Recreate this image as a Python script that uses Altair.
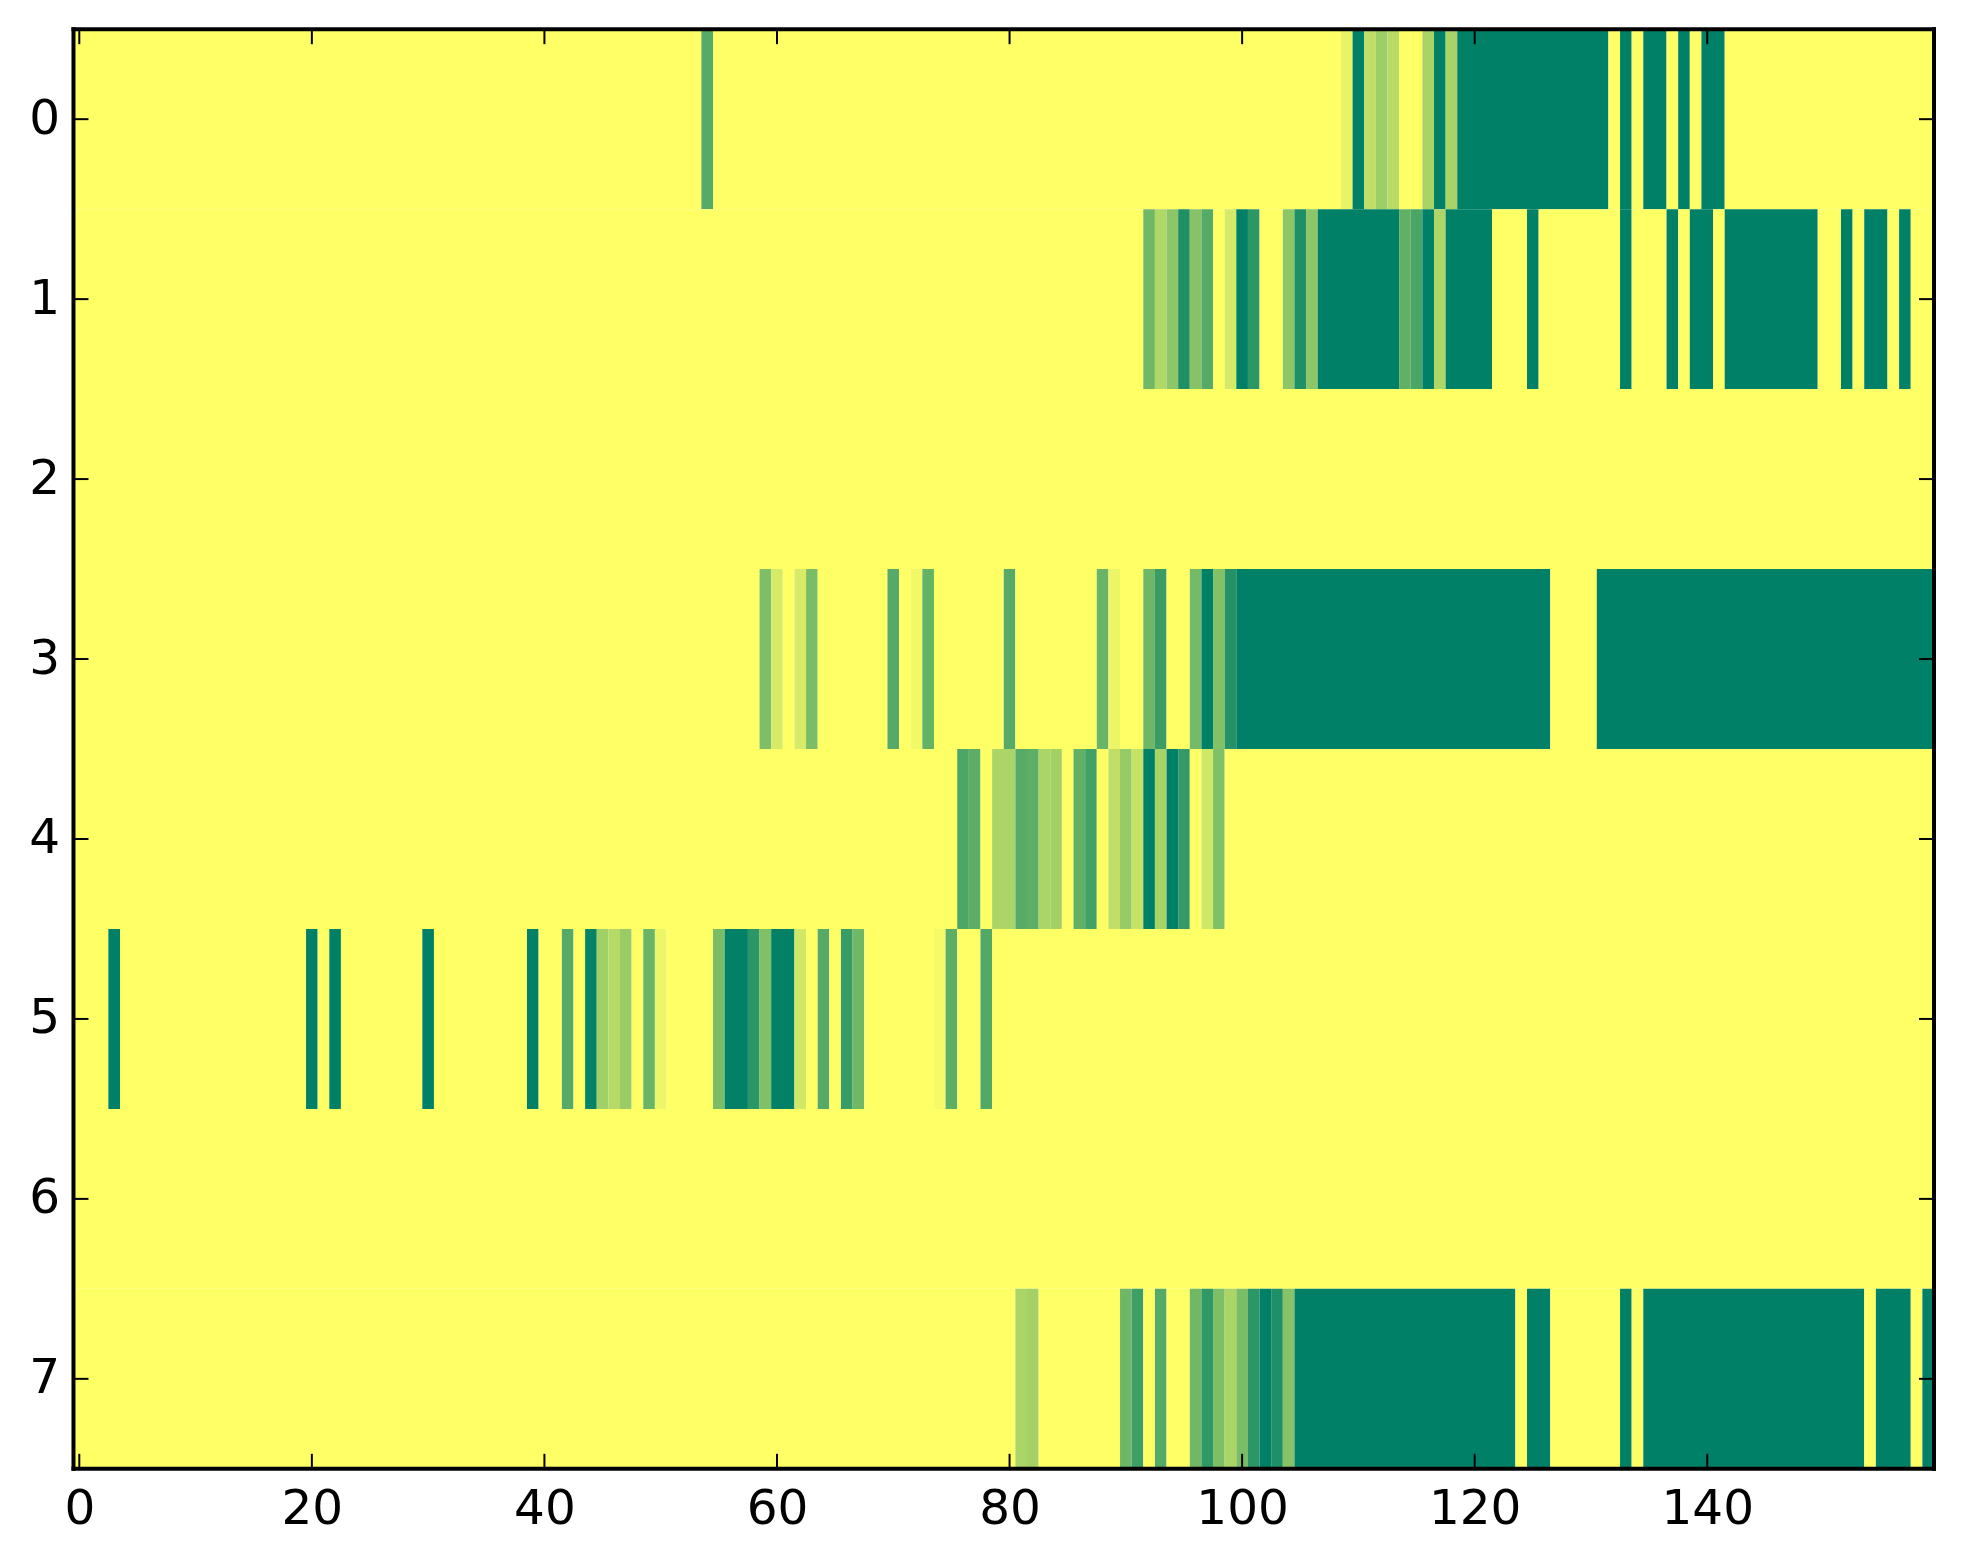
import altair as alt
import pandas as pd

row_0 = [0]*54 + [.67] + [0]*54 + [.09,1,.25,.38,.28,0,0,.34,1,.34] + [1]*13 + [0,1,0,1,1,0,1,0,1,1] + [0]*18
row_1 = ([0]*92 + [.56,.31,.45,.88,.47,.67,0,.165,1,.83,0,0,.45,.88,.45] + [1]*7 + [.62,.71,1,.32] + [1]*4
         + [0]*3 + [1] + [0]*7 + [1] + [0]*3 + [1,0,1,1,0] + [1]*8 + [0,0,1,0,1,1,0,1,0,0])
row_2 = [0]*160
row_3 = ([0]*59 + [.51,.165,0,.155,.52] + [0]*6 + [.67,0,.05,.61] + [0]*6 + [.66] + [0]*7
         + [.59,.08,0,0,.57,.77,0,0,.54,1,.49,.86] + [1]*27 + [0]*4 + [1]*29)
row_4 = ([0]*76 + [.70,.64,0,.33,.33,.66,.63,.33,.36,0,.62,.74,0,.25,.41,.22,1,.34,1,.80,0,.18,.5] + [0]*61)
row_5 = ([0]*3 + [1] + [0]*16 + [1,0,1] + [0]*7 + [1] + [0]*8 + [1,0,0,.67,0,.98,.37,.29,.40,0,.59,.07] + [0]*4
         + [.52,.99,.99,.83,.50,.99,.99,.18,0,.67,0,.78,.56] + [0]*6 + [.04,.63,0,0,.68] + [0]*81)
row_6 = [0]*160
row_7 = ([0]*81 + [.33,.36] + [0]*7 + [.57,.76,0,.67,0,0,.56,.81,.51,.33,.52,.83,1,.88,.47] + [1]*19
         + [0,1,1] + [0]*6 + [1,0] + [1]*19 + [0,1,1,1,0,1])
rows = [row_0, row_1, row_2, row_3, row_4, row_5, row_6, row_7]
for r in rows:
    assert len(r) == 160, len(r)

x_ticks = [0, 20, 40, 60, 80, 100, 120, 140]
y_ticks = [0, 1, 2, 3, 4, 5, 6, 7]

# merge equal neighbours into one rectangle, so that no seams show
cells = []
for ri, r in enumerate(rows):
    start = 0
    for i in range(1, 161):
        if i == 160 or r[i] != r[start]:
            cells.append({"x0": start - .5, "x1": i - .5, "y0": ri - .5, "y1": ri + .5, "v": r[start]})
            start = i
cells = pd.DataFrame(cells)

W, H = 1861, 1440
TICK = 15
x_scale = alt.Scale(domain=[-.5, 159.5], nice=False, zero=False)
y_scale = alt.Scale(domain=[7.5, -.5], nice=False, zero=False)
FONT = "DejaVu Sans"
FS = 48.5

x_axis = alt.Axis(values=x_ticks, format="d", domain=False, ticks=False, grid=False, title=None,
                  labelFont=FONT, labelFontSize=FS, labelColor="#000", labelPadding=17,
                  labelOverlap=False, labelFlush=False)
y_axis = alt.Axis(values=y_ticks, format="d", domain=False, ticks=False, grid=False, title=None,
                  labelFont=FONT, labelFontSize=FS, labelColor="#000", labelPadding=14, labelOffset=-1,
                  labelOverlap=False, labelFlush=False)

heat = alt.Chart(cells).mark_rect(strokeWidth=0).encode(
    x=alt.X("x0:Q", scale=x_scale, axis=x_axis),
    x2="x1:Q",
    y=alt.Y("y0:Q", scale=y_scale, axis=y_axis),
    y2="y1:Q",
    color=alt.Color("v:Q", legend=None,
                    scale=alt.Scale(domain=[0, 1], range=["#ffff66", "#008066"], interpolate="rgb")),
)

xt = pd.DataFrame({"x": x_ticks})
yt = pd.DataFrame({"y": y_ticks})
X = alt.X("x:Q", scale=x_scale, axis=x_axis)
Y = alt.Y("y:Q", scale=y_scale, axis=y_axis)
tick = dict(color="#000", strokeWidth=2)
ticks = [
    alt.Chart(xt).mark_rule(**tick).encode(x=X, y=alt.value(0), y2=alt.value(TICK)),
    alt.Chart(xt).mark_rule(**tick).encode(x=X, y=alt.value(H - TICK), y2=alt.value(H)),
    alt.Chart(yt).mark_rule(**tick).encode(y=Y, x=alt.value(0), x2=alt.value(TICK)),
    alt.Chart(yt).mark_rule(**tick).encode(y=Y, x=alt.value(W - TICK), x2=alt.value(W)),
]
spine = dict(color="#000", strokeWidth=4, strokeCap="square", clip=False)
sx = pd.DataFrame({"x": [-.5, 159.5]})
sy = pd.DataFrame({"y": [-.5, 7.5]})
spines = [
    alt.Chart(sx).mark_rule(**spine).encode(x=X, y=alt.value(0), y2=alt.value(H)),
    alt.Chart(sy).mark_rule(**spine).encode(y=Y, x=alt.value(0), x2=alt.value(W)),
]

chart = alt.layer(heat, *ticks, *spines).properties(
    width=W, height=H,
    autosize=alt.AutoSizeParams(type="none"),
    padding={"left": 65.5, "top": 21, "right": 21, "bottom": 80},
    background="#ffffff",
).configure_view(stroke=None)

chart.save("out.html", embed_options={"renderer": "svg", "actions": False})
